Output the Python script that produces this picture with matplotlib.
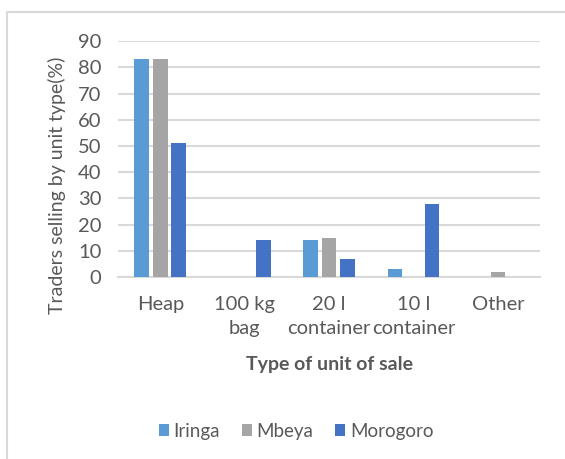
import numpy as np
import matplotlib
matplotlib.use('Agg')
import matplotlib.pyplot as plt
from matplotlib.patches import Rectangle

# datos
categorias = ['Heap', '100 kg\nbag', '20 l\ncontainer', '10 l\ncontainer', 'Other']
iringa = [83, 0, 14, 3, 0]
mbeya = [83, 0, 15, 0, 2]
morogoro = [51, 14, 7, 28, 0]
series = ['Iringa', 'Mbeya', 'Morogoro']
colores = ['#5B9BD5', '#A5A5A5', '#4472C4']
yticks = list(range(0, 100, 10))

plt.rcParams['font.family'] = ['Lato', 'DejaVu Sans']
gris_txt = '#595959'

fig = plt.figure(figsize=(5.65, 4.59), dpi=100)
ax = fig.add_axes([0.209, 0.3965, 0.747, 0.514])

# marco del area del grafico
fig.patches.append(Rectangle((7 / 565, -0.1), 1.2, 1 - 12 / 459 + 0.1,
                             transform=fig.transFigure, fill=False,
                             edgecolor='#D9D9D9', linewidth=1.5))

x = np.arange(len(categorias))
ancho = 0.175
paso = 0.22
for i, (vals, nombre, c) in enumerate(zip([iringa, mbeya, morogoro], series, colores)):
    ax.bar(x + (i - 1) * paso, vals, width=ancho, color=c, label=nombre, zorder=3)

ax.set_xlim(-0.5, len(categorias) - 0.5)
ax.set_ylim(0, 90)
ax.set_yticks(yticks)
ax.set_xticks(x)
ax.set_xticklabels(categorias, fontsize=14.5, color=gris_txt, linespacing=1.5)
ax.tick_params(axis='y', labelsize=14.5, labelcolor=gris_txt, length=0, pad=12)
ax.tick_params(axis='x', length=0, pad=14)
ax.yaxis.grid(True, color='#D9D9D9', linewidth=1.5, zorder=0)
for s in ['top', 'right', 'left']:
    ax.spines[s].set_visible(False)
ax.spines['bottom'].set_color('#D9D9D9')
ax.spines['bottom'].set_linewidth(1.5)

ax.set_ylabel('Traders selling by unit type(%)', fontsize=14, color=gris_txt)
ax.yaxis.set_label_coords(-0.123, 0.39)
ax.set_xlabel('Type of unit of sale', fontsize=14, fontweight='bold', color=gris_txt, labelpad=13)

fig.legend(loc='center', bbox_to_anchor=(296 / 565, 1 - 431 / 459), ncol=3, frameon=False,
           fontsize=13.5, labelcolor=gris_txt, handlelength=0.55, handleheight=0.55,
           handletextpad=0.25, columnspacing=1.15)

fig.savefig('out.png', dpi=100)
